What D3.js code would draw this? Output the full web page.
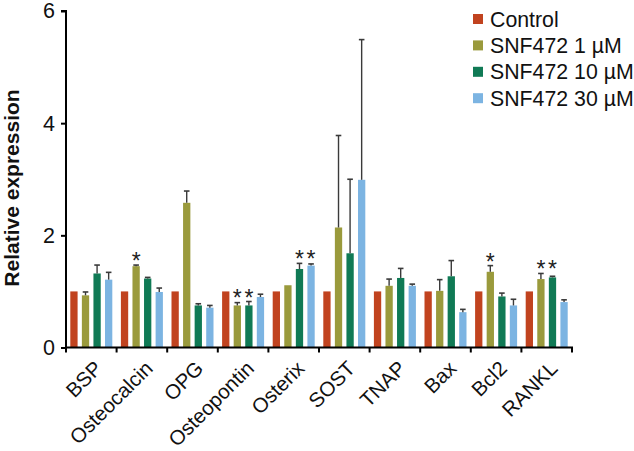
<!DOCTYPE html>
<html>
<head>
<meta charset="utf-8">
<script src="https://cdn.jsdelivr.net/npm/d3@7"></script>
<style>
html,body{margin:0;padding:0;background:#fff;}
svg{display:block;font-family:"Liberation Sans",Arial,sans-serif;}
</style>
</head>
<body>
<svg id="chart" width="634" height="451"></svg>
<script>
const categories = ["BSP","Osteocalcin","OPG","Osteopontin","Osterix","SOST","TNAP","Bax","Bcl2","RANKL"];
const seriesNames = ["Control","SNF472 1 µM","SNF472 10 µM","SNF472 30 µM"];
const seriesColors = ["#C1431F","#9A9A3C","#107A55","#7CB4E2"];
const control = [1,1,1,1,1,1,1,1,1,1];
const snf1 = [0.93,1.45,2.58,0.75,1.11,2.14,1.10,1.01,1.35,1.22];
const snf10 = [1.32,1.23,0.75,0.75,1.40,1.68,1.24,1.27,0.91,1.25];
const snf30 = [1.21,0.99,0.71,0.90,1.46,2.99,1.10,0.63,0.75,0.81];
const errControl = [0,0,0,0,0,0,0,0,0,0];
const err1 = [0.06,0.02,0.21,0.05,0,1.64,0.12,0.20,0.11,0.10];
const err10 = [0.15,0.02,0.03,0.07,0.10,1.32,0.17,0.28,0.06,0.02];
const err30 = [0.13,0.07,0.04,0.05,0.03,2.50,0.03,0.05,0.11,0.04];
const sig1 = [0,1,0,1,0,0,0,0,1,1];
const sig10 = [0,0,0,1,1,0,0,0,0,1];
const sig30 = [0,0,0,0,1,0,0,0,0,0];
const sigControl = [0,0,0,0,0,0,0,0,0,0];
const yTicks = [0,2,4,6];
const yLabel = "Relative expression";

const values = [control, snf1, snf10, snf30];
const errs = [errControl, err1, err10, err30];
const sigs = [sigControl, sig1, sig10, sig30];

const svg = d3.select("#chart");
const x0 = d3.scaleBand().domain(categories).range([66, 572]).paddingInner(0).paddingOuter(0);
const x1 = d3.scaleBand().domain(d3.range(4)).range([4.3, x0.bandwidth() - 4.3]).paddingInner(0.37).paddingOuter(0);
const y = d3.scaleLinear().domain([0, 6]).range([347.5, 11]);

// bars
const groups = svg.append("g").selectAll("g").data(categories).join("g")
  .attr("transform", d => `translate(${x0(d)},0)`);

groups.each(function(cat, ci) {
  const g = d3.select(this);
  const data = d3.range(4).map(si => ({si, v: values[si][ci], e: errs[si][ci], s: sigs[si][ci]}));
  g.selectAll("rect").data(data).join("rect")
    .attr("x", d => x1(d.si))
    .attr("width", x1.bandwidth())
    .attr("y", d => y(d.v))
    .attr("height", d => y(0) - y(d.v))
    .attr("fill", d => seriesColors[d.si]);
  const eb = data.filter(d => d.e > 0);
  g.selectAll("line.err").data(eb).join("line").attr("class","err")
    .attr("x1", d => x1(d.si) + x1.bandwidth()/2)
    .attr("x2", d => x1(d.si) + x1.bandwidth()/2)
    .attr("y1", d => y(d.v))
    .attr("y2", d => y(d.v + d.e))
    .attr("stroke", "#3a3a3a").attr("stroke-width", 1.4);
  g.selectAll("line.cap").data(eb).join("line").attr("class","cap")
    .attr("x1", d => x1(d.si) + x1.bandwidth()/2 - 2.8)
    .attr("x2", d => x1(d.si) + x1.bandwidth()/2 + 2.8)
    .attr("y1", d => y(d.v + d.e))
    .attr("y2", d => y(d.v + d.e))
    .attr("stroke", "#3a3a3a").attr("stroke-width", 1.6);
  const st = data.filter(d => d.s);
  if (st.length) {
    const top = d3.max(st, d => d.v + d.e);
    g.selectAll("text.star").data(st).join("text").attr("class","star")
      .attr("x", d => x1(d.si) + x1.bandwidth()/2)
      .attr("y", y(top) + 4)
      .attr("text-anchor","middle")
      .attr("font-size", 23)
      .attr("fill", "#222")
      .text("*");
  }
});

// axes
const xAxis = svg.append("g").attr("transform", `translate(0,${y(0)})`);
xAxis.append("line").attr("x1", 65).attr("x2", 573).attr("y1", 0).attr("y2", 0)
  .attr("stroke", "#000").attr("stroke-width", 2);
const boundaries = categories.map(c => x0(c)).concat([x0.range()[1]]);
xAxis.selectAll("line.tk").data(boundaries).join("line").attr("class","tk")
  .attr("x1", d => d).attr("x2", d => d).attr("y1", 0).attr("y2", 5)
  .attr("stroke", "#000").attr("stroke-width", 2);
xAxis.selectAll("text").data(categories).join("text")
  .attr("transform", d => `translate(${x0(d) + x0.bandwidth()/2 + 2},${12}) rotate(-45)`)
  .attr("text-anchor", "end")
  .attr("dy", "0.7em")
  .attr("font-size", 20.5)
  .attr("fill", "#111")
  .text(d => d);

const yAxis = d3.axisLeft(y).tickValues(yTicks).tickSize(5).tickPadding(6).tickFormat(d3.format("d"));
const ya = svg.append("g").attr("transform", "translate(66,0)").call(yAxis);
ya.select(".domain").attr("stroke-width", 2).attr("stroke", "#000").attr("d", `M-5,${y(6)}H0V${y(0)+1}`);
ya.selectAll(".tick line").attr("stroke-width", 2).attr("stroke", "#000");
ya.selectAll(".tick text").attr("font-size", 21.5).attr("font-family", "Liberation Sans, Arial, sans-serif").attr("fill", "#111");

svg.append("text")
  .attr("transform", `translate(19,${188}) rotate(-90)`)
  .attr("text-anchor", "middle")
  .attr("font-size", 21)
  .attr("font-weight", "bold")
  .attr("fill", "#111")
  .text(yLabel);

// legend
const legend = svg.append("g").selectAll("g").data(seriesNames).join("g")
  .attr("transform", (d, i) => `translate(473,${19 + i * 26.4})`);
legend.append("rect").attr("x", 0).attr("y", -5).attr("width", 10).attr("height", 10)
  .attr("fill", (d, i) => seriesColors[i]);
legend.append("text").attr("x", 17).attr("y", 0).attr("dy", "0.36em")
  .attr("font-size", 21.3).attr("fill", "#111").text(d => d);
</script>
</body>
</html>
